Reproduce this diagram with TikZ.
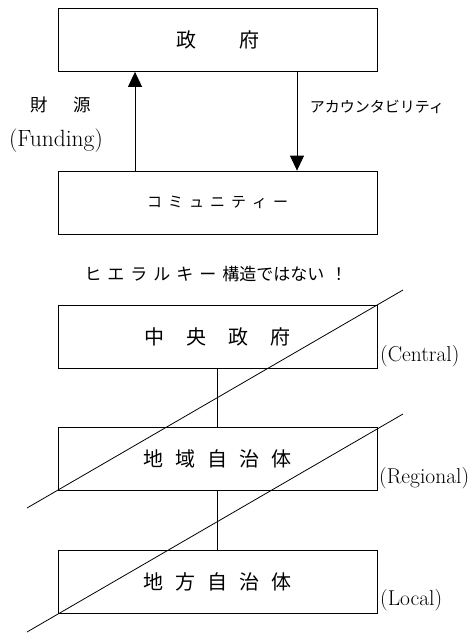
\documentclass[tikz,border=0pt]{standalone}
\usepackage{fontspec}
\newfontfamily\cjk{Noto Sans CJK JP}
\usetikzlibrary{arrows.meta}
\tikzset{
  box/.style={draw, line width=0.8pt, minimum width=319pt, minimum height=63pt, inner sep=0pt, font=\cjk\fontsize{20}{20}\selectfont},
  lbl/.style={inner sep=0pt, anchor=west, font=\fontsize{21.5}{21.5}\selectfont},
  conn/.style={line width=0.8pt},
  arr/.style={line width=0.8pt, -{Triangle[length=15pt,width=14pt]}},
  slash/.style={line width=0.8pt}
}
\begin{document}
\begin{tikzpicture}[x=1pt,y=-1pt]
\useasboundingbox (0,0) rectangle (469,633);
\node[box] (gov) at (217.5,40) {政\hspace{43pt}府};
\node[box, font=\cjk\fontsize{15}{15}\selectfont] (com) at (217.5,202.5) {コ\hspace{6pt}ミ\hspace{6pt}ュ\hspace{6pt}ニ\hspace{6pt}テ\hspace{6pt}ィ\hspace{6pt}ー};
\coordinate (upX) at (135,0);
\coordinate (dnX) at (297,0);
\draw[arr] (com.north -| upX) -- (gov.south -| upX);
\draw[arr] (gov.south -| dnX) -- (com.north -| dnX);
\node[inner sep=0pt, font=\cjk\fontsize{17.5}{17.5}\selectfont] (zaigen) at (61,105) {財\hspace{26pt}源};
\node[inner sep=0pt, font=\fontsize{23.5}{23.5}\selectfont] (funding) at (56,141) {(Funding)};
\node[inner sep=0pt, font=\cjk\fontsize{15}{15}\selectfont] (acc) at (377,107) {アカウンタビリティ};
\node[inner sep=0pt, font=\cjk\fontsize{17}{17}\selectfont] (hier) at (216,274) {ヒ\hspace{6pt}エ\hspace{6pt}ラ\hspace{6pt}ル\hspace{6pt}キ\hspace{6pt}ー\hspace{6pt}構造ではない\hspace{6pt}！};
\node[box] (cen) at (217.5,336.5) {中\hspace{22pt}央\hspace{22pt}政\hspace{22pt}府};
\node[box] (reg) at (217.5,459) {地\hspace{12pt}域\hspace{12pt}自\hspace{12pt}治\hspace{12pt}体};
\node[box] (loc) at (217.5,581.5) {地\hspace{12pt}方\hspace{12pt}自\hspace{12pt}治\hspace{12pt}体};
\draw[conn] (cen) -- (reg);
\draw[conn] (reg) -- (loc);
\node[lbl] (lc) at (380,356) {(Central)};
\node[lbl] (lr) at (379,478) {(Regional)};
\node[lbl] (ll) at (380,600) {(Local)};
\coordinate (s1a) at (27,508);
\coordinate (s1b) at (403,290);
\coordinate (s2a) at (27,632);
\coordinate (s2b) at (403,414);
\draw[slash] (s1a) -- (s1b);
\draw[slash] (s2a) -- (s2b);
\end{tikzpicture}
\end{document}
